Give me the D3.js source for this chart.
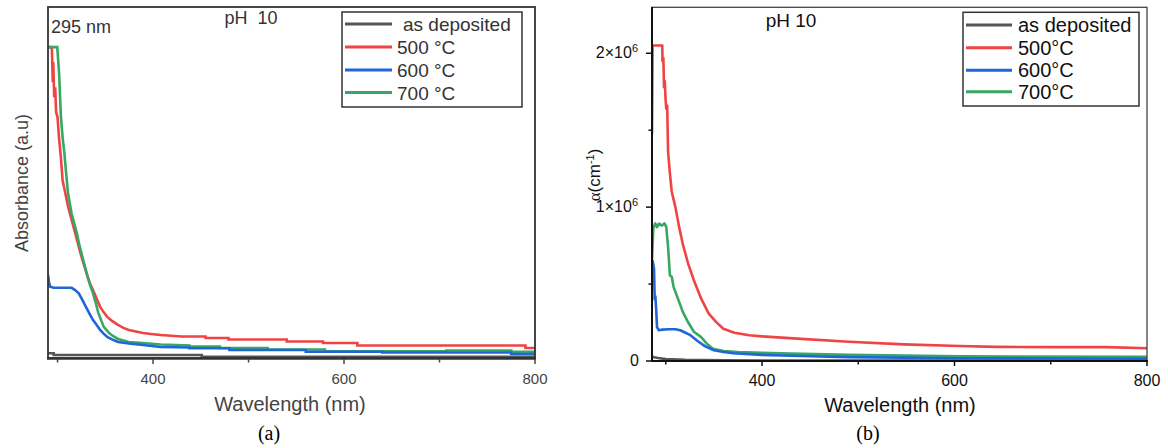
<!DOCTYPE html>
<html>
<head>
<meta charset="utf-8">
<style>
  body { margin: 0; background: #fff; }
  text { font-family: "Liberation Sans", Arial, sans-serif; }
</style>
</head>
<body>
<svg width="1168" height="448"></svg>
<script src="https://d3js.org/d3.v7.min.js"></script>
<script>
// ---- data ----
var seriesNames = ["as deposited", "500 °C", "600 °C", "700 °C"];
var seriesNamesB = ["as deposited", "500°C", "600°C", "700°C"];
var seriesColors = ["#555555", "#f04343", "#1f66db", "#37a763"];

// panel (a): absorbance, arbitrary units, [wavelength nm, value]
// (the recorded trace is stair-stepped in the tail, so repeated wavelengths mark the steps)
var absAsDep = [[290,0.047],[296,0.047],[296,0.03],[451,0.03],[451,0.012],[800,0.012]];
var abs500 = [[290,3.10],[294,3.10],[295,2.75],[295.5,2.95],[296.5,2.60],[297.5,2.70],[298.5,2.45],
  [300,2.40],[301.5,2.20],[303.5,2.00],[305.3,1.77],[308,1.65],[311,1.51],[314.7,1.38],[317.5,1.28],
  [320.3,1.18],[323,1.08],[326,0.98],[329,0.89],[331.5,0.81],[334,0.74],[337,0.68],[341,0.59],
  [344.6,0.51],[348,0.46],[352,0.41],[357,0.37],[363.3,0.33],[369,0.30],[374.6,0.28],[382,0.265],
  [389.5,0.25],[398,0.24],[408,0.23],[430,0.215],[455,0.215],[455,0.20],[479,0.20],[479,0.185],
  [540,0.185],[540,0.165],[578,0.165],[578,0.15],[614,0.15],[614,0.125],[790,0.125],[790,0.10],[800,0.10]];
var abs600 = [[290,0.83],[291,0.76],[292.3,0.71],[296,0.70],[314.7,0.70],[318,0.68],[322.2,0.645],
  [326,0.58],[329.7,0.51],[333,0.45],[337,0.38],[341,0.33],[344.6,0.28],[348,0.245],[352,0.21],
  [357,0.185],[363.3,0.16],[374.6,0.145],[389.5,0.13],[408,0.11],[438,0.105],[438,0.097],[480,0.097],
  [480,0.08],[560,0.08],[560,0.062],[640,0.062],[640,0.055],[775,0.055],[775,0.04],[800,0.04]];
var abs700 = [[290,3.10],[299.7,3.10],[301.6,2.84],[303.5,2.41],[305.3,2.20],[307.2,2.04],[309,1.84],
  [311,1.64],[314.7,1.44],[317.5,1.34],[320.3,1.24],[323,1.12],[326,1.01],[329,0.90],[331.5,0.81],
  [334,0.73],[337,0.65],[340,0.55],[342.7,0.45],[345.5,0.38],[348.4,0.31],[354,0.25],[358,0.22],
  [363.3,0.19],[374.6,0.16],[389.5,0.15],[408,0.135],[438,0.125],[438,0.115],[470,0.115],[470,0.10],
  [520,0.10],[520,0.085],[580,0.085],[580,0.068],[707,0.068],[707,0.075],[775,0.075],[775,0.063],[800,0.063]];

// panel (b): absorption coefficient, units of 1e6 cm^-1
var alphaAsDep = [[285.5,0.03],[288,0.025],[292,0.02],[300,0.012],[320,0.007],[360,0.004],[400,0.003],[800,0.002]];
var alpha500 = [[285.7,1.47],[286.3,2.05],[296.4,2.05],[296.6,1.95],[297.5,1.97],[298.2,1.78],[299,1.82],
  [299.8,1.70],[300.5,1.64],[301.5,1.66],[302.4,1.36],[304.3,1.22],[306.2,1.10],[310,1.00],[313.9,0.87],
  [317.7,0.76],[323.4,0.63],[329.2,0.525],[336.8,0.405],[344.5,0.31],[352.2,0.254],[359.8,0.21],
  [371.3,0.184],[386.6,0.167],[400,0.16],[432.5,0.147],[490,0.125],[547.4,0.108],[604.8,0.097],
  [643,0.092],[700.5,0.09],[757.9,0.09],[800,0.083]];
var alpha600 = [[286.3,0.655],[287.8,0.60],[288.5,0.40],[289.2,0.42],[290.1,0.33],[290.9,0.22],
  [292.8,0.20],[296.6,0.204],[303,0.206],[310,0.206],[315,0.20],[320,0.185],[325,0.17],[333,0.13],
  [341,0.095],[350,0.07],[360,0.058],[370,0.05],[400,0.04],[430,0.034],[490,0.025],[605,0.018],[800,0.015]];
var alpha700 = [[285.7,0.655],[287,0.86],[289,0.894],[291,0.87],[293,0.893],[296,0.88],[298.6,0.894],
  [300.5,0.872],[302.4,0.742],[304.3,0.557],[306.2,0.547],[308.1,0.482],[312,0.416],[317.7,0.319],
  [323.4,0.25],[329.2,0.19],[336.8,0.155],[343,0.11],[349,0.08],[360,0.065],[375,0.058],[400,0.053],
  [430,0.048],[490,0.04],[605,0.03],[800,0.028]];

var xMajor = [400, 600, 800];
var xMinor = [300, 500, 700];
var yMajorB = [0, 1, 2];
var yMinorB = [0.5, 1.5];

var svg = d3.select("svg");

function ticksX(g, x, y0, color, size) {
  var ax = g.append("g").attr("transform", "translate(0," + y0 + ")");
  ax.selectAll("line.mj").data(xMajor).enter().append("line")
    .attr("x1", x).attr("x2", x).attr("y1", 0).attr("y2", 5)
    .attr("stroke", color).attr("stroke-width", 1.5);
  ax.selectAll("line.mn").data(xMinor).enter().append("line")
    .attr("x1", x).attr("x2", x).attr("y1", 0).attr("y2", 3.5)
    .attr("stroke", color).attr("stroke-width", 1.5);
  ax.selectAll("text").data(xMajor).enter().append("text")
    .attr("x", x).attr("y", 25).attr("text-anchor", "middle")
    .attr("font-size", size).attr("fill", color)
    .text(function(d) { return d; });
}

function legend(g, names, left, top, w, h, lx1, lx2, tx, rows, size, color) {
  g.append("rect").attr("x", left).attr("y", top).attr("width", w).attr("height", h)
    .attr("fill", "#fff").attr("stroke", "#333").attr("stroke-width", 1.5);
  names.forEach(function(n, i) {
    g.append("line").attr("x1", lx1).attr("x2", lx2).attr("y1", rows[i]).attr("y2", rows[i])
      .attr("stroke", seriesColors[i]).attr("stroke-width", 3);
    g.append("text").attr("x", tx[i]).attr("y", rows[i] + 7)
      .attr("font-size", size).attr("fill", color).text(n);
  });
}

// ---------- panel (a) ----------
var xa = d3.scaleLinear().domain([290, 800]).range([48, 535]);
var ya = d3.scaleLinear().domain([0, 3.5]).range([358, 7]);
var ga = svg.append("g");
ga.append("clipPath").attr("id", "clipA").append("rect")
  .attr("x", 48).attr("y", 7).attr("width", 487).attr("height", 351);
var lineA = d3.line().x(function(d) { return xa(d[0]); }).y(function(d) { return ya(d[1]); });
[absAsDep, abs500, abs700, abs600].forEach(function(s, k) {
  var ci = [0, 1, 3, 2][k];
  ga.append("path").datum(s).attr("clip-path", "url(#clipA)")
    .attr("fill", "none").attr("stroke", seriesColors[ci]).attr("stroke-width", 2.6)
    .attr("d", lineA);
});
ga.append("rect").attr("x", 48).attr("y", 7).attr("width", 487).attr("height", 351)
  .attr("fill", "none").attr("stroke", "#333").attr("stroke-width", 1.8);
ga.append("line").attr("x1", 47).attr("x2", 536).attr("y1", 358.5).attr("y2", 358.5)
  .attr("stroke", "#333").attr("stroke-width", 2.5);
ticksX(ga, xa, 359, "#444", 15);
ga.append("text").attr("x", 290).attr("y", 411).attr("text-anchor", "middle")
  .attr("font-size", 20).attr("fill", "#444").text("Wavelength (nm)");
ga.append("text").attr("transform", "translate(28,183) rotate(-90)").attr("text-anchor", "middle")
  .attr("font-size", 18).attr("fill", "#444").text("Absorbance (a.u)");
ga.append("text").attr("x", 251).attr("y", 24).attr("text-anchor", "middle")
  .attr("font-size", 18).attr("fill", "#333").attr("xml:space", "preserve").text("pH  10");
ga.append("text").attr("x", 51).attr("y", 33).attr("font-size", 18).attr("fill", "#333").text("295 nm");
legend(ga, seriesNames, 342, 12, 180, 95, 345, 392, [403, 397, 397, 397], [24, 47, 70, 92.5], 19, "#333");
ga.append("text").attr("x", 269).attr("y", 440).attr("text-anchor", "middle")
  .style("font-family", "'Liberation Serif', 'Times New Roman', serif")
  .attr("font-size", 20).attr("fill", "#000").text("(a)");

// ---------- panel (b) ----------
var xb = d3.scaleLinear().domain([285.7, 800]).range([652, 1147]);
var yb = d3.scaleLinear().domain([0, 2.3]).range([361, 7.1]);
var gb = svg.append("g");
gb.append("clipPath").attr("id", "clipB").append("rect")
  .attr("x", 652).attr("y", 7).attr("width", 495).attr("height", 354);
var lineB = d3.line().x(function(d) { return xb(d[0]); }).y(function(d) { return yb(d[1]); });
[alphaAsDep, alpha500, alpha700, alpha600].forEach(function(s, k) {
  var ci = [0, 1, 3, 2][k];
  gb.append("path").datum(s).attr("clip-path", "url(#clipB)")
    .attr("fill", "none").attr("stroke", seriesColors[ci]).attr("stroke-width", 2.6)
    .attr("stroke-linejoin", "round").attr("d", lineB);
});
gb.append("rect").attr("x", 652).attr("y", 7.3).attr("width", 495).attr("height", 353.7)
  .attr("fill", "none").attr("stroke", "#444").attr("stroke-width", 1.3);
gb.append("line").attr("x1", 652).attr("x2", 652).attr("y1", 7).attr("y2", 362)
  .attr("stroke", "#111").attr("stroke-width", 2);
gb.append("line").attr("x1", 651).attr("x2", 1148).attr("y1", 361).attr("y2", 361)
  .attr("stroke", "#111").attr("stroke-width", 2);
ticksX(gb, xb, 361, "#111", 16);
var yax = gb.append("g");
yax.selectAll("line.mj").data(yMajorB).enter().append("line")
  .attr("x1", 646).attr("x2", 652).attr("y1", yb).attr("y2", yb)
  .attr("stroke", "#111").attr("stroke-width", 1.5);
yax.selectAll("line.mn").data(yMinorB).enter().append("line")
  .attr("x1", 648.5).attr("x2", 652).attr("y1", yb).attr("y2", yb)
  .attr("stroke", "#111").attr("stroke-width", 1.5);
yax.selectAll("text").data(yMajorB).enter().append("text")
  .attr("x", 638).attr("y", function(d) { return yb(d) + 5; })
  .attr("text-anchor", "end").attr("font-size", 16).attr("fill", "#111")
  .each(function(d) {
    var t = d3.select(this);
    if (d === 0) { t.attr("x", 639).text("0"); return; }
    t.append("tspan").text(d + "×10");
    t.append("tspan").attr("dy", -6).attr("font-size", 11).text("6");
  });
gb.append("text").attr("x", 900).attr("y", 412).attr("text-anchor", "middle")
  .attr("font-size", 20).attr("fill", "#111").text("Wavelength (nm)");
var al = gb.append("text").attr("transform", "translate(600,175) rotate(-90)").attr("text-anchor", "middle")
  .attr("font-size", 17).attr("fill", "#111");
al.append("tspan").style("font-family", "'Liberation Serif', serif").text("α");
al.append("tspan").text("(cm");
al.append("tspan").attr("dy", -6).attr("font-size", 11).text("-1");
al.append("tspan").attr("dy", 6).text(")");
gb.append("text").attr("x", 791).attr("y", 27).attr("text-anchor", "middle")
  .attr("font-size", 19).attr("fill", "#111").text("pH 10");
legend(gb, seriesNamesB, 963, 12.3, 176, 93.7, 966, 1012, [1018, 1018, 1018, 1018], [25, 47.7, 70.3, 91.7], 20, "#111");
gb.append("text").attr("x", 868).attr("y", 440).attr("text-anchor", "middle")
  .style("font-family", "'Liberation Serif', 'Times New Roman', serif")
  .attr("font-size", 20).attr("fill", "#000").text("(b)");
</script>
</body>
</html>
